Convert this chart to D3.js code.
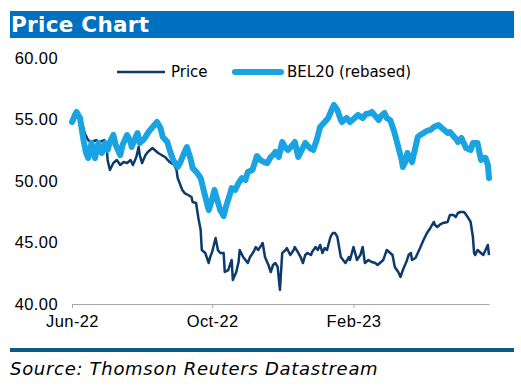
<!DOCTYPE html>
<html>
<head>
<meta charset="utf-8">
<script src="https://cdn.jsdelivr.net/npm/d3@7"></script>
<style>
	body { margin: 0; background: #fff; }
	svg { display: block; font-family: 'DejaVu Sans', Verdana, sans-serif; }
</style>
</head>
<body>
<svg class="chart" width="521" height="388"></svg>
<script>
const title = 'Price Chart';
const source = 'Source: Thomson Reuters Datastream';
const seriesNames = ['Price', 'BEL20 (rebased)'];
const yTicks = [40, 45, 50, 55, 60];
const xTickDates = ['2022-06-01', '2022-10-01', '2023-02-01'];
const xTickLabels = ['Jun-22', 'Oct-22', 'Feb-23'];

const priceDates = [
	'2022-06-01', '2022-06-05', '2022-06-08', '2022-06-11', '2022-06-12', '2022-06-15', '2022-06-18', '2022-06-22',
	'2022-06-25', '2022-06-29', '2022-07-01', '2022-07-02', '2022-07-04', '2022-07-07', '2022-07-10', '2022-07-13',
	'2022-07-16', '2022-07-19', '2022-07-22', '2022-07-24', '2022-07-27', '2022-07-29', '2022-07-30', '2022-08-01',
	'2022-08-04', '2022-08-06', '2022-08-10', '2022-08-12', '2022-08-15', '2022-08-18', '2022-08-21', '2022-08-25',
	'2022-08-29', '2022-08-31', '2022-09-01', '2022-09-05', '2022-09-07', '2022-09-10', '2022-09-13', '2022-09-14',
	'2022-09-17', '2022-09-19', '2022-09-21', '2022-09-22', '2022-09-25', '2022-09-28', '2022-09-29', '2022-10-01',
	'2022-10-04', '2022-10-06', '2022-10-08', '2022-10-11', '2022-10-12', '2022-10-15', '2022-10-18', '2022-10-19',
	'2022-10-22', '2022-10-24', '2022-10-25', '2022-10-28', '2022-11-01', '2022-11-03', '2022-11-06', '2022-11-08',
	'2022-11-10', '2022-11-13', '2022-11-14', '2022-11-16', '2022-11-19', '2022-11-21', '2022-11-23', '2022-11-25',
	'2022-11-27', '2022-11-29', '2022-12-01', '2022-12-04', '2022-12-05', '2022-12-08', '2022-12-11', '2022-12-12',
	'2022-12-15', '2022-12-17', '2022-12-19', '2022-12-21', '2022-12-23', '2022-12-26', '2022-12-27', '2022-12-30',
	'2023-01-01', '2023-01-03', '2023-01-05', '2023-01-07', '2023-01-09', '2023-01-12', '2023-01-14', '2023-01-16',
	'2023-01-18', '2023-01-21', '2023-01-23', '2023-01-25', '2023-01-28', '2023-01-29', '2023-02-01', '2023-02-03',
	'2023-02-04', '2023-02-07', '2023-02-09', '2023-02-11', '2023-02-14', '2023-02-17', '2023-02-20', '2023-02-22',
	'2023-02-24', '2023-02-27', '2023-03-02', '2023-03-05', '2023-03-07', '2023-03-09', '2023-03-12', '2023-03-14',
	'2023-03-16', '2023-03-19', '2023-03-21', '2023-03-23', '2023-03-24', '2023-03-27', '2023-03-29', '2023-03-31',
	'2023-04-03', '2023-04-06', '2023-04-09', '2023-04-12', '2023-04-13', '2023-04-15', '2023-04-18', '2023-04-20',
	'2023-04-24', '2023-04-26', '2023-04-29', '2023-05-01', '2023-05-03', '2023-05-05', '2023-05-08', '2023-05-09',
	'2023-05-12', '2023-05-14', '2023-05-16', '2023-05-17', '2023-05-18', '2023-05-20', '2023-05-23', '2023-05-25',
	'2023-05-27', '2023-05-29', '2023-05-30'
];
const priceValues = [
	54.80, 55.53, 54.96, 54.31, 53.90, 53.33, 53.17, 53.33,
	53.17, 53.33, 52.93, 51.71, 50.89, 51.46, 51.71, 51.30,
	51.54, 51.46, 51.71, 51.30, 51.95, 52.76, 52.11, 51.46,
	52.11, 52.36, 52.68, 52.52, 52.28, 52.11, 51.95, 51.54,
	51.30, 50.89, 50.24, 49.27, 49.02, 48.86, 48.70, 48.29,
	48.21, 46.99, 46.02, 44.39, 44.15, 43.33, 43.74, 44.23,
	45.37, 44.39, 44.15, 44.15, 42.60, 42.76, 43.58, 41.95,
	42.60, 43.41, 44.39, 43.82, 43.33, 43.82, 44.23, 44.63,
	44.39, 44.80, 44.96, 43.82, 43.17, 42.60, 43.17, 43.33,
	43.01, 41.14, 44.15, 44.39, 44.55, 43.98, 44.39, 44.63,
	44.15, 43.82, 43.33, 43.98, 44.15, 43.98, 44.23, 44.63,
	44.39, 44.80, 44.15, 44.55, 44.39, 45.45, 45.77, 45.77,
	45.45, 43.82, 43.58, 43.33, 43.82, 43.58, 44.63, 43.98,
	43.58, 43.98, 44.63, 43.33, 43.58, 43.41, 43.33, 43.17,
	43.33, 43.58, 44.39, 44.15, 43.98, 43.01, 42.60, 42.20,
	42.76, 43.41, 43.98, 44.15, 43.58, 43.74, 44.15, 44.55,
	45.20, 45.77, 46.18, 46.67, 46.42, 46.26, 46.50, 46.59,
	46.67, 47.24, 47.24, 47.07, 47.40, 47.48, 47.48, 47.40,
	46.99, 46.67, 45.45, 44.15, 43.98, 44.39, 44.15, 43.98,
	44.39, 44.80, 43.98
];

const bel20Dates = [
	'2022-06-01', '2022-06-04', '2022-06-05', '2022-06-08', '2022-06-11', '2022-06-13', '2022-06-15', '2022-06-18',
	'2022-06-19', '2022-06-21', '2022-06-24', '2022-06-25', '2022-06-27', '2022-06-30', '2022-07-02', '2022-07-04',
	'2022-07-07', '2022-07-09', '2022-07-13', '2022-07-15', '2022-07-19', '2022-07-22', '2022-07-23', '2022-07-26',
	'2022-07-28', '2022-07-30', '2022-08-02', '2022-08-04', '2022-08-06', '2022-08-08', '2022-08-11', '2022-08-14',
	'2022-08-17', '2022-08-19', '2022-08-23', '2022-08-25', '2022-08-28', '2022-09-01', '2022-09-03', '2022-09-07',
	'2022-09-09', '2022-09-12', '2022-09-14', '2022-09-18', '2022-09-21', '2022-09-24', '2022-09-28', '2022-09-30',
	'2022-10-03', '2022-10-05', '2022-10-08', '2022-10-11', '2022-10-13', '2022-10-16', '2022-10-18', '2022-10-21',
	'2022-10-24', '2022-10-27', '2022-10-30', '2022-11-01', '2022-11-05', '2022-11-07', '2022-11-09', '2022-11-12',
	'2022-11-15', '2022-11-18', '2022-11-21', '2022-11-23', '2022-11-25', '2022-11-28', '2022-12-01', '2022-12-04',
	'2022-12-06', '2022-12-10', '2022-12-12', '2022-12-15', '2022-12-18', '2022-12-21', '2022-12-25', '2022-12-28',
	'2022-12-31', '2023-01-03', '2023-01-07', '2023-01-10', '2023-01-13', '2023-01-15', '2023-01-18', '2023-01-21',
	'2023-01-22', '2023-01-26', '2023-01-29', '2023-01-31', '2023-02-03', '2023-02-05', '2023-02-09', '2023-02-12',
	'2023-02-16', '2023-02-17', '2023-02-20', '2023-02-23', '2023-02-25', '2023-02-28', '2023-03-02', '2023-03-05',
	'2023-03-08', '2023-03-10', '2023-03-12', '2023-03-15', '2023-03-16', '2023-03-18', '2023-03-20', '2023-03-23',
	'2023-03-24', '2023-03-26', '2023-03-29', '2023-03-31', '2023-04-03', '2023-04-06', '2023-04-09', '2023-04-12',
	'2023-04-16', '2023-04-19', '2023-04-24', '2023-04-26', '2023-04-29', '2023-05-02', '2023-05-03', '2023-05-06',
	'2023-05-08', '2023-05-10', '2023-05-14', '2023-05-16', '2023-05-20', '2023-05-23', '2023-05-25', '2023-05-27',
	'2023-05-29', '2023-05-30'
];
const bel20Values = [
	54.80, 55.45, 55.61, 55.12, 53.33, 52.36, 51.87, 53.09,
	52.52, 51.87, 53.09, 52.52, 52.28, 53.09, 52.52, 53.17,
	53.74, 52.93, 52.11, 52.93, 53.74, 53.17, 52.76, 53.50,
	53.90, 53.09, 53.33, 53.58, 53.90, 54.15, 54.47, 54.80,
	54.31, 53.58, 53.17, 52.52, 51.71, 51.14, 51.46, 52.36,
	52.76, 51.87, 51.06, 50.65, 50.24, 49.11, 47.64, 48.21,
	49.27, 48.62, 47.64, 47.15, 47.89, 48.78, 49.43, 49.27,
	49.84, 50.24, 50.08, 50.73, 50.89, 51.46, 52.03, 51.71,
	51.54, 51.46, 51.95, 52.11, 52.36, 51.95, 53.17, 52.68,
	52.52, 52.93, 53.17, 51.95, 52.52, 53.09, 52.68, 52.52,
	53.33, 54.39, 54.80, 55.12, 55.77, 56.18, 55.77, 54.96,
	54.80, 55.12, 54.80, 54.96, 55.20, 55.37, 55.12, 55.45,
	55.53, 55.61, 55.28, 54.96, 55.28, 55.53, 55.12, 54.96,
	54.15, 53.50, 52.76, 51.71, 51.14, 51.54, 52.28, 51.71,
	51.54, 52.36, 53.58, 53.74, 53.90, 54.07, 54.15, 54.39,
	54.55, 54.31, 53.90, 53.98, 53.66, 53.33, 53.17, 53.50,
	53.09, 52.68, 52.52, 53.09, 53.09, 51.71, 51.87, 51.87,
	51.30, 50.24
];

function drawChart() {
	const parseDate = d3.timeParse('%Y-%m-%d');
	const svg = d3.select('.chart');
	const plot = {left: 72, right: 489, top: 58, bottom: 304};
	const colors = {price: '#0D3A6C', bel20: '#1AA3E2', header: '#0070C0', rule: '#0C5A86'};

	const price = priceDates.map((d, i) => [parseDate(d), priceValues[i]]);
	const bel20 = bel20Dates.map((d, i) => [parseDate(d), bel20Values[i]]);

	const xScale = d3.scaleTime()
		.domain([parseDate('2022-06-01'), parseDate('2023-05-30')])
		.range([plot.left, plot.right]);
	const yScale = d3.scaleLinear()
		.domain([40, 60])
		.range([plot.bottom, plot.top]);

	// header bar
	svg.append('rect')
		.attr('x', 10).attr('y', 11)
		.attr('width', 504).attr('height', 27)
		.attr('fill', colors.header);
	svg.append('text')
		.attr('x', 11).attr('y', 32)
		.attr('fill', '#fff')
		.attr('font-size', 21.5)
		.attr('letter-spacing', 0.3)
		.attr('font-weight', 'bold')
		.text(title);

	// y labels, no axis line
	const yAxis = d3.axisLeft(yScale)
		.tickValues(yTicks)
		.tickSize(0)
		.tickPadding(0)
		.tickFormat(d3.format('.2f'));
	svg.append('g')
		.attr('transform', 'translate(58, 0)')
		.call(yAxis)
		.call(g => g.select('.domain').remove())
		.selectAll('text')
		.attr('font-family', null)
		.attr('font-size', 16.5)
		.attr('letter-spacing', 0.4)
		.attr('fill', '#000');

	const xAxis = d3.axisBottom(xScale)
		.tickValues(xTickDates.map(parseDate))
		.tickSize(4)
		.tickSizeOuter(0)
		.tickPadding(7)
		.tickFormat((d, i) => xTickLabels[i]);
	svg.append('g')
		.attr('transform', `translate(0, ${plot.bottom})`)
		.call(xAxis)
		.call(g => g.select('.domain').attr('stroke', '#A6A6A6'))
		.call(g => g.selectAll('.tick line').attr('stroke', '#A6A6A6'))
		.selectAll('text')
		.attr('font-family', null)
		.attr('font-size', 16.5)
		.attr('letter-spacing', 0.4)
		.attr('fill', '#000');

	const line = d3.line()
		.x(([date]) => xScale(date))
		.y(([, value]) => yScale(value));

	svg.append('path')
		.datum(price)
		.attr('d', line)
		.attr('fill', 'none')
		.attr('stroke', colors.price)
		.attr('stroke-width', 2.5)
		.attr('stroke-linejoin', 'round');
	svg.append('path')
		.datum(bel20)
		.attr('d', line)
		.attr('fill', 'none')
		.attr('stroke', colors.bel20)
		.attr('stroke-width', 6)
		.attr('stroke-linejoin', 'round')
		.attr('stroke-linecap', 'round');

	// legend
	const legend = svg.append('g').attr('font-size', 15);
	legend.append('line')
		.attr('x1', 117).attr('x2', 165).attr('y1', 72).attr('y2', 72)
		.attr('stroke', colors.price).attr('stroke-width', 2.5);
	legend.append('text')
		.attr('x', 171).attr('y', 77)
		.text(seriesNames[0]);
	legend.append('line')
		.attr('x1', 235).attr('x2', 281).attr('y1', 72).attr('y2', 72)
		.attr('stroke', colors.bel20).attr('stroke-width', 6)
		.attr('stroke-linecap', 'round');
	legend.append('text')
		.attr('x', 287).attr('y', 77)
		.text(seriesNames[1]);

	// bottom rule and source
	svg.append('rect')
		.attr('x', 10).attr('y', 348)
		.attr('width', 504).attr('height', 4)
		.attr('fill', colors.rule);
	svg.append('text')
		.attr('x', 10).attr('y', 375)
		.attr('font-size', 18)
		.attr('letter-spacing', 0.7)
		.attr('font-style', 'italic')
		.text(source);
}

window.onload = drawChart;
</script>
</body>
</html>
